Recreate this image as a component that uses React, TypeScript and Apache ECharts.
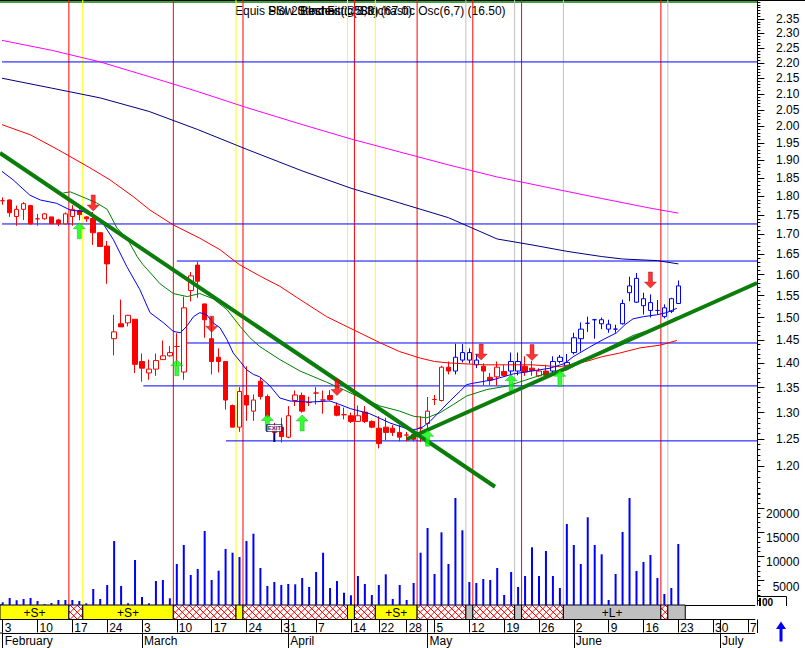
import React, { useEffect, useRef } from "react";
import * as echarts from "echarts";

const FONT = "Liberation Sans, Arial, Helvetica, sans-serif";

// ---------- calendar (trading days, 2003) ----------
const months = ["February", "March", "April", "May", "June", "July"];
const tradingDays = [
  [3, 4, 5, 6, 7, 10, 11, 12, 13, 14, 17, 18, 19, 20, 21, 24, 25, 26, 27, 28],
  [3, 4, 5, 6, 7, 10, 11, 12, 13, 14, 17, 18, 19, 20, 21, 24, 25, 26, 27, 28, 31],
  [1, 2, 3, 4, 7, 8, 9, 10, 11, 14, 15, 16, 17, 22, 23, 24, 25, 28, 29, 30],
  [2, 5, 6, 7, 8, 9, 12, 13, 14, 15, 16, 19, 20, 21, 22, 23, 26, 27, 28, 29, 30],
  [2, 3, 4, 5, 6, 9, 10, 11, 12, 13, 16, 17, 18, 19, 20, 23, 24, 25, 26, 27, 30],
  [1, 2, 3, 4, 7, 8],
];

// ---------- price data: [open, close, low, high] ----------
const candles: number[][] = [
  [1.788, 1.788, 1.777, 1.797], [1.790, 1.756, 1.745, 1.792], [1.746, 1.765, 1.722, 1.775], [1.765, 1.780, 1.737, 1.784],
  [1.775, 1.727, 1.725, 1.777], [1.740, 1.740, 1.722, 1.753], [1.740, 1.753, 1.738, 1.755], [1.745, 1.727, 1.727, 1.745],
  [1.737, 1.727, 1.721, 1.740], [1.727, 1.753, 1.725, 1.757], [1.746, 1.765, 1.722, 1.776], [1.762, 1.751, 1.736, 1.765],
  [1.745, 1.740, 1.732, 1.747], [1.741, 1.704, 1.673, 1.758], [1.704, 1.669, 1.668, 1.705], [1.670, 1.626, 1.578, 1.683],
  [1.453, 1.468, 1.417, 1.506], [1.486, 1.479, 1.479, 1.541], [1.488, 1.505, 1.480, 1.506], [1.496, 1.398, 1.380, 1.496],
  [1.404, 1.390, 1.362, 1.421], [1.380, 1.388, 1.366, 1.408], [1.388, 1.406, 1.374, 1.421], [1.408, 1.416, 1.408, 1.449],
  [1.416, 1.423, 1.414, 1.437], [1.436, 1.436, 1.394, 1.465], [1.382, 1.522, 1.366, 1.548], [1.562, 1.597, 1.537, 1.606],
  [1.623, 1.584, 1.545, 1.632], [1.531, 1.495, 1.455, 1.531], [1.453, 1.404, 1.377, 1.502], [1.413, 1.404, 1.381, 1.432],
  [1.404, 1.325, 1.306, 1.404], [1.314, 1.272, 1.272, 1.316], [1.272, 1.342, 1.263, 1.351], [1.334, 1.315, 1.284, 1.394],
  [1.303, 1.325, 1.284, 1.336], [1.363, 1.332, 1.326, 1.370], [1.332, 1.293, 1.290, 1.336], [1.272, 1.262, 1.255, 1.280],
  [1.272, 1.254, 1.243, 1.290], [1.253, 1.294, 1.251, 1.313], [1.324, 1.335, 1.313, 1.344], [1.334, 1.303, 1.300, 1.340],
  [1.320, 1.320, 1.313, 1.332], [1.339, 1.339, 1.316, 1.351], [1.325, 1.325, 1.298, 1.344], [1.334, 1.326, 1.324, 1.345],
  [1.313, 1.295, 1.293, 1.320], [1.296, 1.296, 1.287, 1.310], [1.294, 1.283, 1.280, 1.300], [1.283, 1.294, 1.282, 1.314],
  [1.301, 1.283, 1.280, 1.313], [1.283, 1.272, 1.270, 1.285], [1.270, 1.241, 1.232, 1.293], [1.272, 1.262, 1.247, 1.290],
  [1.270, 1.262, 1.255, 1.276], [1.262, 1.253, 1.245, 1.276], [1.257, 1.257, 1.245, 1.263], [1.258, 1.249, 1.245, 1.267],
  [1.270, 1.270, 1.244, 1.293], [1.279, 1.303, 1.267, 1.331], [1.326, 1.326, 1.315, 1.335], [1.324, 1.392, 1.322, 1.395],
  [1.392, 1.384, 1.377, 1.404], [1.384, 1.413, 1.377, 1.442], [1.423, 1.407, 1.402, 1.441], [1.423, 1.407, 1.400, 1.432],
  [1.407, 1.397, 1.390, 1.420], [1.394, 1.384, 1.354, 1.400], [1.371, 1.365, 1.355, 1.380], [1.372, 1.392, 1.354, 1.404],
  [1.383, 1.375, 1.373, 1.397], [1.384, 1.404, 1.377, 1.423], [1.404, 1.384, 1.375, 1.423], [1.394, 1.382, 1.374, 1.415],
  [1.390, 1.385, 1.374, 1.405], [1.374, 1.384, 1.372, 1.390], [1.384, 1.375, 1.372, 1.397], [1.384, 1.404, 1.377, 1.415],
  [1.404, 1.413, 1.400, 1.418], [1.402, 1.394, 1.390, 1.420], [1.423, 1.455, 1.419, 1.466], [1.453, 1.474, 1.425, 1.489],
  [1.487, 1.487, 1.468, 1.502], [1.495, 1.495, 1.453, 1.497], [1.495, 1.486, 1.474, 1.500], [1.474, 1.485, 1.466, 1.495],
  [1.474, 1.474, 1.466, 1.484], [1.486, 1.532, 1.484, 1.541], [1.557, 1.573, 1.537, 1.595], [1.591, 1.535, 1.533, 1.604],
  [1.543, 1.527, 1.507, 1.557], [1.534, 1.516, 1.500, 1.553], [1.516, 1.516, 1.507, 1.540], [1.522, 1.502, 1.498, 1.530],
  [1.514, 1.543, 1.510, 1.545], [1.532, 1.573, 1.531, 1.586],
];
const blueCandles = [65, 66, 67, 68, 73, 74, 79, 80, 81, 82, 83, 84, 85, 86, 87, 88, 89, 90, 91, 92, 93, 94, 95, 96, 97];

const volumes = [
  560, 1440, 970, 1240, 1440, 820, 200, 410, 1030, 1030, 1030, 820, 350, 3300, 1240, 4120, 13180, 3910, 350, 9270,
  1650, 350, 4940, 5150, 1380, 8450, 12360, 6180, 7420, 15240, 5150, 7070, 11540, 10770, 9890, 13180, 14690, 7620, 3910, 4740,
  4120, 4330, 4260, 5560, 3710, 6800, 10770, 3500, 4940, 2530, 2000, 5970, 4330, 2060, 4120, 6320, 1240, 4120, 1030, 4530,
  10770, 15860, 6390, 14970, 8450, 22040, 15390, 4740, 4530, 5360, 5150, 7620, 2060, 6800, 3710, 5970, 11890, 5970, 11120, 5970,
  3500, 16690, 12360, 8450, 18070, 12360, 10440, 1030, 6390, 15040, 22040, 7000, 8860, 10300, 5560, 2270, 3500, 12570,
];

// moving averages: [day index, price]
const maMagenta = [[-0.4, 2.277], [7, 2.242], [14, 2.203], [21, 2.155], [28, 2.107], [35, 2.057], [43, 2.005], [50, 1.962], [57, 1.924], [64, 1.887], [71, 1.853], [79, 1.821], [86, 1.794], [93, 1.768], [97, 1.755]];
const maNavy = [[-0.4, 2.151], [7, 2.118], [14, 2.087], [21, 2.045], [28, 1.99], [35, 1.932], [43, 1.87], [50, 1.822], [57, 1.782], [64, 1.743], [71, 1.688], [76, 1.673], [81, 1.657], [86, 1.644], [89, 1.638], [94, 1.634], [97, 1.626]];
const maRed = [[-0.4, 2.007], [4, 1.974], [8, 1.93], [12.5, 1.879], [15.4, 1.845], [18.75, 1.799], [21.15, 1.763], [24.5, 1.724], [28.3, 1.69], [31.2, 1.661], [34, 1.624], [37, 1.596], [39.8, 1.572], [42.7, 1.541], [46.5, 1.502], [50.3, 1.473], [54.2, 1.444], [57, 1.425], [60, 1.411], [62, 1.404], [64, 1.401], [69, 1.397], [76, 1.397], [80, 1.393], [84, 1.405], [86, 1.414], [88.6, 1.422], [91.5, 1.433], [94.4, 1.439], [96.8, 1.449]];
const maGreen = [[8.7, 1.809], [9.7, 1.812], [11.5, 1.798], [13.5, 1.782], [15, 1.765], [16.4, 1.716], [17.9, 1.688], [19.3, 1.644], [20.1, 1.625], [22.6, 1.578], [24.5, 1.555], [26.5, 1.548], [28.3, 1.555], [30.2, 1.543], [32.2, 1.518], [34.1, 1.48], [35.5, 1.455], [36.9, 1.436], [39.8, 1.408], [42.7, 1.384], [46.5, 1.361], [48.9, 1.346], [51.3, 1.33], [54.2, 1.313], [57, 1.303], [59, 1.293], [60.9, 1.29], [62.8, 1.3], [64.7, 1.316], [66.6, 1.333], [69.5, 1.346], [72.4, 1.353], [77.6, 1.377], [81, 1.386], [85.8, 1.425], [90.5, 1.46], [93.9, 1.477], [96.8, 1.501]];
const maBlue = [[-0.4, 1.873], [1.5, 1.845], [2.8, 1.822], [3.9, 1.803], [5.4, 1.79], [7.75, 1.781], [9.7, 1.763], [11.6, 1.759], [13, 1.746], [14.4, 1.728], [15.9, 1.686], [17.8, 1.62], [19.7, 1.564], [21.15, 1.511], [23.1, 1.488], [24.5, 1.469], [25.5, 1.466], [26.4, 1.48], [27.4, 1.502], [28.3, 1.511], [29.3, 1.506], [30.2, 1.488], [31.2, 1.477], [32.2, 1.451], [33.1, 1.422], [34.1, 1.404], [35, 1.387], [36, 1.377], [36.9, 1.372], [38.4, 1.353], [39.8, 1.329], [41.25, 1.323], [44.1, 1.321], [47, 1.323], [48.4, 1.316], [49.9, 1.308], [52.7, 1.298], [55.6, 1.28], [58.5, 1.267], [59.4, 1.268], [60.4, 1.273], [61.35, 1.283], [62.8, 1.303], [64.2, 1.323], [65.7, 1.343], [66.6, 1.356], [67.6, 1.359], [70.4, 1.366], [73.3, 1.378], [78.6, 1.39], [80.7, 1.4], [81.9, 1.414], [84.3, 1.435], [86.2, 1.451], [88.15, 1.466], [89.35, 1.484], [90.5, 1.497], [92, 1.502], [93.9, 1.506], [95.3, 1.511], [96.8, 1.521]];

const trendDown = [[-0.39, 1.921], [70.68, 1.163]];
const trendUp = [[58.0, 1.249], [108.3, 1.58]];

const levelPrices = [2.203, 1.7266, 1.633, 1.4436, 1.3534, 1.246];
const levelStarts = [-0.39, -0.39, 25, 26.07, 20.19, 32.06];
const levelLabels = ["2,20", "1,71", "1,63", "1,44", "1,35", "1,24"];
const levelLabelPos = [[19.6, 2.25], [22.1, 1.768], [61.8, 1.663], [61.9, 1.471], [56.8, 1.372], [38.2, 1.225]];

const redLines = [9.5, 24.5, 34.5, 50.5, 59.5, 67.5, 74.5, 94.5];
const yellowLines = [11.5, 33.5, 49.5, 53.5];
const greyLines = [66.5, 73.5, 80.5, 95.5];

const upArrows = [[11, 1.709], [25, 1.391], [38, 1.281], [43, 1.28], [61, 1.251], [73, 1.36], [80, 1.369]];
const downArrows = [[13, 1.782], [30, 1.485], [48, 1.35], [68.7, 1.424], [76, 1.423], [93, 1.587]];

// strip: [start, end, kind] kind 0 = yellow, 1 = hatch, 2 = grey
const stripSegs = [
  [-0.39, 9.5, 0], [9.5, 11.5, 1], [11.5, 24.5, 0], [24.5, 33.5, 1], [33.5, 34.5, 0], [34.5, 49.5, 1],
  [49.5, 50.5, 0], [50.5, 53.5, 1], [53.5, 59.5, 0], [59.5, 66.5, 1], [66.5, 67.5, 2], [67.5, 73.5, 1],
  [73.5, 74.5, 2], [74.5, 80.5, 1], [80.5, 94.5, 2], [94.5, 95.5, 1], [95.5, 98, 2],
];
const stripLabels = ["+S+", "", "+S+", "", "", "", "", "", "+S+", "", "", "", "", "", "+L+", "", ""];

const titleTexts = ["Equis PSI 20 Index (1.580)", "Slow Stochastic(8,3) (67.0)", "Best Fit @ Stochastic Osc(6,7) (16.50)"];

const priceTickLabels = [1.2, 1.25, 1.3, 1.35, 1.4, 1.45, 1.5, 1.55, 1.6, 1.65, 1.7, 1.75, 1.8, 1.85, 1.9, 1.95, 2.0, 2.05, 2.1, 2.15, 2.2, 2.25, 2.3, 2.35];
const volTickLabels = [5000, 10000, 15000, 20000];
const PRICE_AXIS_MIN = 0.9735;
const PRICE_AXIS_MAX = 2.418;
const VOL_AXIS_MAX = 24000;

// ---------- derived ----------
const L = Math.log;
const cats: string[] = [];
const dayNum: number[] = [];
const weekday: number[] = [];
const monthIdx: number[] = [];
tradingDays.forEach((days, m) =>
  days.forEach((d) => {
    cats.push(`2003-${m + 2}-${d}`);
    dayNum.push(d);
    weekday.push(new Date(2003, m + 1, d).getDay());
    monthIdx.push(m);
  })
);
const isWeekStart = cats.map((_, i) => i === 0 || weekday[i] <= weekday[i - 1]);
const isMonthStart = cats.map((_, i) => i === 0 || monthIdx[i] !== monthIdx[i - 1]);
const X_MAX = cats.length - 1;

const minorPriceTicks: number[] = [];
for (let c = 115; c <= 241; c++) minorPriceTicks.push(L(c / 100));
const majorPriceTicks = priceTickLabels.map(L);
const minorVolTicks: number[] = [];
for (let v = 1000; v <= 23000; v += 1000) minorVolTicks.push(v);

const YMIN = L(PRICE_AXIS_MIN);
const YMAX = L(PRICE_AXIS_MAX);
const toLog = (arr: number[][]) => arr.map((p) => [p[0], L(p[1])]);

function buildOption(): any {
  const GL = 2.7;
  const GW = 752.2;
  const series: any[] = [];

  const vline = (x: number, color: string) => ({
    type: "line", xAxisIndex: 1, yAxisIndex: 0, data: [[x, YMAX], [x, YMIN]], symbol: "none", silent: true,
    lineStyle: { color, width: 1 }, z: 1, clip: false,
  });
  greyLines.forEach((x) => series.push(vline(x, "#c0c0c0")));
  yellowLines.forEach((x) => series.push(vline(x, "#ffff00")));
  redLines.forEach((x) => series.push(vline(x, "#ff0000")));

  levelPrices.forEach((p, i) =>
    series.push({
      type: "line", xAxisIndex: 1, yAxisIndex: 0, symbol: "none", silent: true, clip: false, z: 2,
      data: [[levelStarts[i], L(p)], [108.35, L(p)]], lineStyle: { color: "#0000ff", width: 1 },
    })
  );

  const ma = (data: number[][], color: string) => ({
    type: "line", xAxisIndex: 1, yAxisIndex: 0, symbol: "none", silent: true, clip: false, z: 4,
    data: toLog(data), lineStyle: { color, width: 1 },
  });
  series.push(ma(maMagenta, "#ff00ff"));
  series.push(ma(maNavy, "#000080"));
  series.push(ma(maRed, "#ff0000"));

  const blueSet = new Set(blueCandles);
  const blueStyle = { color: "#ffffff", color0: "#0000ff", borderColor: "#0000ff", borderColor0: "#0000ff", borderColorDoji: "#0000ff" };
  series.push({
    type: "candlestick", xAxisIndex: 0, yAxisIndex: 0, barWidth: 5, z: 3, silent: true,
    itemStyle: { color: "#ffffff", color0: "#ff0000", borderColor: "#ff0000", borderColor0: "#ff0000", borderColorDoji: "#ff0000", borderWidth: 1 },
    data: candles.map((c, i) => {
      const v = c.map(L);
      return blueSet.has(i) ? { value: v, itemStyle: blueStyle } : v;
    }),
  });

  series.push(ma(maGreen, "#008000"));
  series.push(ma(maBlue, "#0000ff"));

  [trendDown, trendUp].forEach((t) =>
    series.push({
      type: "line", xAxisIndex: 1, yAxisIndex: 0, symbol: "none", silent: true, clip: false, z: 5,
      data: toLog(t), lineStyle: { color: "#0a7d0a", width: 4 },
    })
  );

  series.push({
    type: "scatter", xAxisIndex: 1, yAxisIndex: 0, z: 6, silent: true,
    symbol: "path://M6 0L12 6L8 6L8 16L4 16L4 6L0 6Z", symbolSize: [12, 16],
    itemStyle: { color: "#00ff00", borderColor: "#00a000", borderWidth: 0.5 },
    data: toLog(upArrows),
  });
  series.push({
    type: "scatter", xAxisIndex: 1, yAxisIndex: 0, z: 6, silent: true,
    symbol: "path://M4 0L8 0L8 10L12 10L6 16L0 10L4 10Z", symbolSize: [12, 16],
    itemStyle: { color: "#ff0000", borderColor: "#a00000", borderWidth: 0.5 },
    data: toLog(downArrows),
  });

  series.push({
    type: "scatter", xAxisIndex: 1, yAxisIndex: 0, z: 6, silent: true, symbolSize: 1,
    itemStyle: { opacity: 0 },
    label: { show: true, position: "inside", formatter: "{b}", color: "#0000ff", fontSize: 12, fontFamily: FONT },
    data: levelLabelPos.map((p, i) => ({ name: levelLabels[i], value: [p[0], L(p[1])] })),
  });

  // EXIT sign
  series.push({
    type: "line", xAxisIndex: 1, yAxisIndex: 0, symbol: "none", silent: true, z: 7,
    data: [[39, L(1.262)], [39, L(1.244)]], lineStyle: { color: "#000060", width: 2 },
  });
  series.push({
    type: "scatter", xAxisIndex: 1, yAxisIndex: 0, z: 8, silent: true, symbol: "rect", symbolSize: [15, 7],
    itemStyle: { color: "#ffffff", borderColor: "#000060", borderWidth: 1 },
    label: { show: true, position: "inside", formatter: "EXIT", color: "#000060", fontSize: 6, fontFamily: FONT, fontWeight: "bold" },
    data: [[39, L(1.27)]],
  });

  series.push({
    type: "bar", xAxisIndex: 2, yAxisIndex: 2, barWidth: 2, silent: true, z: 2,
    itemStyle: { color: "#0000ff" }, data: volumes,
  });

  series.push({
    type: "custom", xAxisIndex: 4, yAxisIndex: 4, silent: true, clip: false, z: 2,
    data: stripSegs,
    renderItem: (params: any, api: any) => {
      const x0 = api.coord([api.value(0), 0])[0];
      const x1 = api.coord([api.value(1), 0])[0];
      const kind = api.value(2);
      const cs = params.coordSys;
      const yT = cs.y;
      const h = cs.height;
      const children: any[] = [];
      const fill = kind === 0 ? "#ffff00" : kind === 2 ? "#c0c0c0" : "#ffffff";
      children.push({ type: "rect", shape: { x: x0, y: yT, width: x1 - x0, height: h }, style: { fill, stroke: null } });
      if (kind === 1) {
        const step = 7;
        for (let t = Math.floor((x0 - h) / step) * step; t <= x1; t += step) {
          const s0 = Math.max(0, x0 - t);
          const s1 = Math.min(h, x1 - t);
          if (s1 > s0) {
            children.push({ type: "line", shape: { x1: t + s0, y1: yT + s0, x2: t + s1, y2: yT + s1 }, style: { stroke: "#ff0000", lineWidth: 1 } });
            children.push({ type: "line", shape: { x1: t + s0, y1: yT + h - s0, x2: t + s1, y2: yT + h - s1 }, style: { stroke: "#ff0000", lineWidth: 1 } });
          }
        }
      }
      children.push({ type: "rect", shape: { x: x0, y: yT, width: x1 - x0, height: h }, style: { fill: null, stroke: "#000000", lineWidth: 1 } });
      const lab = stripLabels[params.dataIndex];
      if (lab) {
        children.push({
          type: "text",
          style: { text: lab, x: (x0 + x1) / 2, y: yT + h / 2 + 0.5, align: "center", verticalAlign: "middle", textAlign: "center", textVerticalAlign: "middle", fill: "#000", font: `12px ${FONT}` },
        });
      }
      return { type: "group", children };
    },
  });

  const hidden = (gridIndex: number, type: string) =>
    type === "category"
      ? { type, gridIndex, data: cats, boundaryGap: false, show: false, axisLine: { onZero: false } }
      : { type, gridIndex, min: 0, max: X_MAX, show: false, axisLine: { onZero: false } };

  const labelStyle = { color: "#000", fontSize: 12, fontFamily: FONT };

  return {
    animation: false,
    backgroundColor: "#ffffff",
    grid: [
      { left: GL, top: 0, width: GW, height: 605, containLabel: false, outerBoundsMode: "none" },
      { left: GL, top: 488.5, width: GW, height: 116.5, containLabel: false, outerBoundsMode: "none" },
      { left: GL, top: 605, width: GW, height: 14.5, containLabel: false, outerBoundsMode: "none" },
      { left: GL, top: 633, width: GW, height: 15, containLabel: false, outerBoundsMode: "none" },
    ],
    xAxis: [
      hidden(0, "category"),
      hidden(0, "value"),
      {
        type: "category", gridIndex: 1, data: cats, boundaryGap: false, position: "bottom",
        axisLine: { show: true, onZero: false, lineStyle: { color: "#000" } },
        axisTick: { show: false }, axisLabel: { show: false }, splitLine: { show: false },
      },
      {
        type: "category", gridIndex: 2, data: cats, boundaryGap: false, position: "bottom",
        axisLine: { show: true, onZero: false, lineStyle: { color: "#000", width: 1 } },
        axisTick: { show: true, interval: (i: number) => isWeekStart[i] || isMonthStart[i], length: 13, lineStyle: { color: "#000" } },
        axisLabel: {
          show: true, interval: (i: number) => isWeekStart[i], formatter: (_v: string, i: number) => String(dayNum[i]),
          align: "left", margin: 2, padding: [0, 0, 0, 2], ...labelStyle,
        },
        splitLine: { show: false },
      },
      hidden(2, "value"),
      {
        type: "category", gridIndex: 3, data: cats, boundaryGap: false, position: "top",
        axisLine: { show: true, onZero: false, lineStyle: { color: "#000", width: 1 } },
        axisTick: { show: true, inside: true, interval: (i: number) => isMonthStart[i], length: 15, lineStyle: { color: "#000" } },
        axisLabel: {
          show: true, inside: true, interval: (i: number) => isMonthStart[i], formatter: (_v: string, i: number) => months[monthIdx[i]],
          align: "left", verticalAlign: "top", margin: 2, padding: [0, 0, 0, 2], ...labelStyle,
        },
        splitLine: { show: false },
      },
    ],
    yAxis: [
      {
        type: "value", gridIndex: 0, min: YMIN, max: YMAX, position: "right", offset: 2.5,
        axisLine: { show: true, onZero: false, lineStyle: { color: "#000" } },
        axisTick: { show: true, customValues: minorPriceTicks, length: 3, lineStyle: { color: "#000" } },
        axisLabel: { show: true, customValues: majorPriceTicks, formatter: (v: number) => Math.exp(v).toFixed(2), align: "right", margin: 42, ...labelStyle },
        splitLine: { show: false },
      },
      {
        type: "value", gridIndex: 0, min: YMIN, max: YMAX, position: "right", offset: 2.5,
        axisLine: { show: false, onZero: false },
        axisTick: { show: true, customValues: majorPriceTicks, length: 7, lineStyle: { color: "#000" } },
        axisLabel: { show: false }, splitLine: { show: false },
      },
      {
        type: "value", gridIndex: 1, min: 0, max: VOL_AXIS_MAX, position: "right", offset: 2.5,
        axisLine: { show: false, onZero: false },
        axisTick: { show: true, customValues: minorVolTicks, length: 3, lineStyle: { color: "#000" } },
        axisLabel: { show: true, customValues: volTickLabels, formatter: (v: number) => String(Math.round(v)), align: "right", verticalAlign: "top", margin: 42, ...labelStyle },
        splitLine: { show: false },
      },
      {
        type: "value", gridIndex: 1, min: 0, max: VOL_AXIS_MAX, position: "right", offset: 2.5,
        axisLine: { show: false, onZero: false },
        axisTick: { show: true, customValues: volTickLabels, length: 7, lineStyle: { color: "#000" } },
        axisLabel: { show: false }, splitLine: { show: false },
      },
      { type: "value", gridIndex: 2, min: 0, max: 1, show: false, axisLine: { onZero: false } },
      { type: "value", gridIndex: 3, min: 0, max: 1, show: false, axisLine: { onZero: false } },
    ],
    series,
    graphic: [
      { type: "line", silent: true, shape: { x1: 0, y1: 0.5, x2: 805, y2: 0.5 }, style: { stroke: "#000", lineWidth: 1 } },
      { type: "line", silent: true, shape: { x1: 0, y1: 2, x2: 757, y2: 2 }, style: { stroke: "#008000", lineWidth: 1.5 } },
      { type: "text", silent: true, x: 235, y: 5, style: { text: titleTexts[0], fill: "#000", font: `12px ${FONT}` } },
      { type: "text", silent: true, x: 268, y: 5, style: { text: titleTexts[1], fill: "#000", font: `12px ${FONT}` } },
      { type: "text", silent: true, x: 300, y: 5, style: { text: titleTexts[2], fill: "#000", font: `12px ${FONT}` } },
      { type: "line", silent: true, shape: { x1: 0, y1: 605, x2: 3, y2: 605 }, style: { stroke: "#000", lineWidth: 1 } },
      { type: "line", silent: true, shape: { x1: 0, y1: 619.5, x2: 3, y2: 619.5 }, style: { stroke: "#000", lineWidth: 1 } },
      { type: "line", silent: true, shape: { x1: 0, y1: 633, x2: 3, y2: 633 }, style: { stroke: "#000", lineWidth: 1 } },
      { type: "line", silent: true, shape: { x1: 757.5, y1: 619.5, x2: 757.5, y2: 633 }, style: { stroke: "#000", lineWidth: 1 } },
      { type: "polyline", silent: true, shape: { points: [[758, 596.5], [786.5, 596.5], [786.5, 606]] }, style: { stroke: "#000", fill: null, lineWidth: 1 } },
      { type: "rect", silent: true, shape: { x: 759, y: 598, width: 2, height: 8 }, style: { fill: "#000" } },
      { type: "text", silent: true, x: 762, y: 597, style: { text: "00", fill: "#000", font: `bold 10px ${FONT}` } },
      { type: "polygon", silent: true, shape: { points: [[781, 621.5], [786, 629], [782.5, 629], [782.5, 641.5], [779.5, 641.5], [779.5, 629], [776, 629]] }, style: { fill: "#0000ff" } },
    ],
  };
}

export default function App() {
  const ref = useRef<HTMLDivElement>(null);
  useEffect(() => {
    if (!ref.current) return;
    const chart = echarts.init(ref.current, null, { renderer: "svg" });
    chart.setOption(buildOption());
    return () => chart.dispose();
  }, []);
  return <div ref={ref} style={{ position: "fixed", left: 0, top: 0, width: 805, height: 648, background: "#fff" }} />;
}
